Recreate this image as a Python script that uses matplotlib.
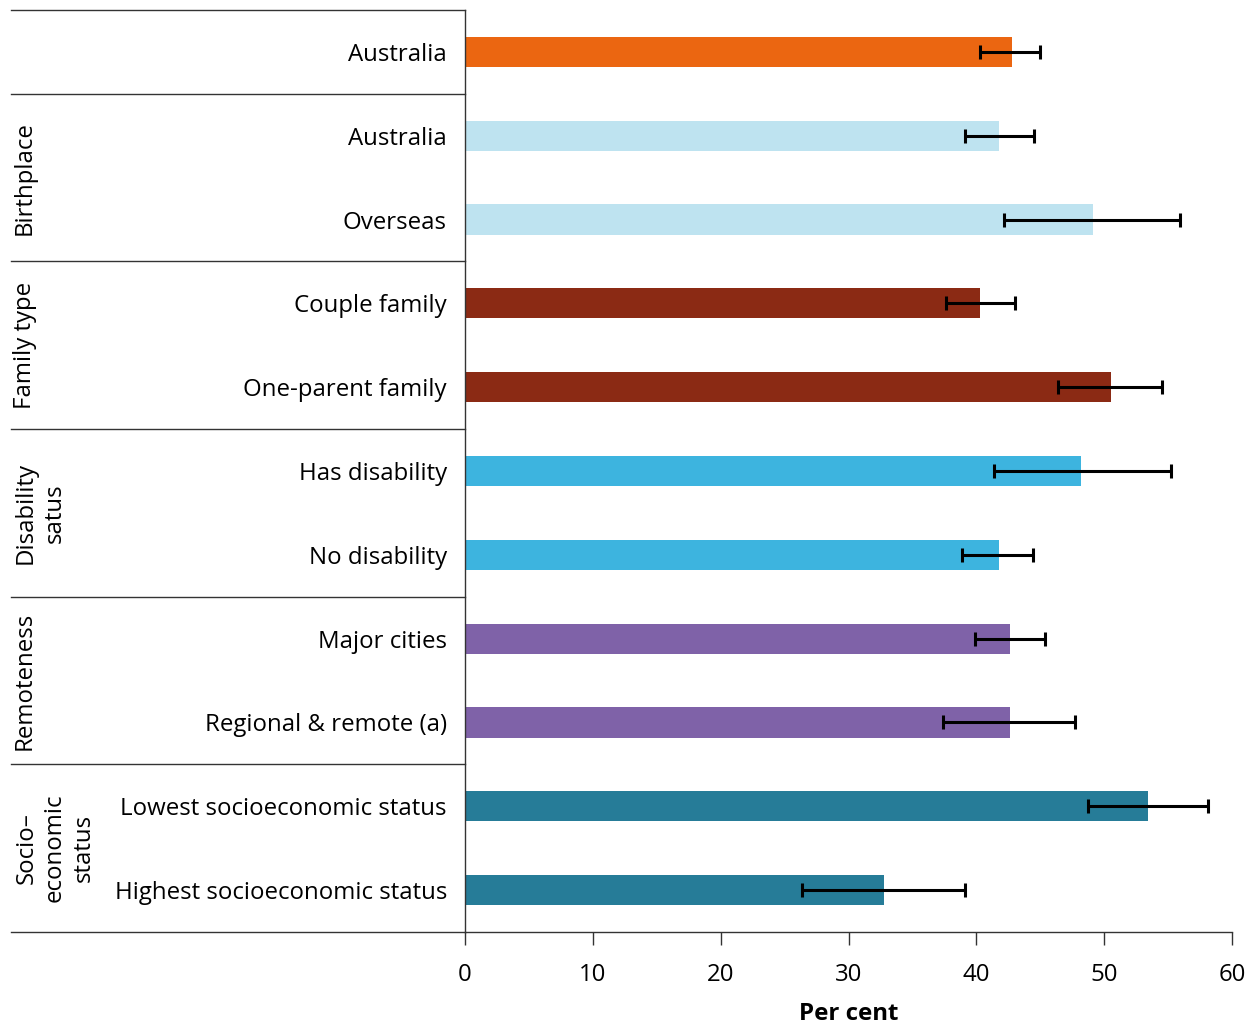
import matplotlib
matplotlib.use("Agg")
import matplotlib.pyplot as plt

plt.rcParams['font.family'] = ['Open Sans', 'DejaVu Sans']

labels = ['Australia', 'Australia', 'Overseas', 'Couple family', 'One-parent family',
          'Has disability', 'No disability', 'Major cities', 'Regional & remote (a)',
          'Lowest socioeconomic status', 'Highest socioeconomic status']
values = [42.8, 41.8, 49.1, 40.3, 50.5, 48.2, 41.8, 42.6, 42.6, 53.4, 32.8]
lower = [40.3, 39.1, 42.2, 37.6, 46.4, 41.4, 38.9, 39.9, 37.4, 48.7, 26.4]
upper = [45.0, 44.5, 55.9, 43.0, 54.5, 55.2, 44.4, 45.4, 47.7, 58.1, 39.1]
colours = ['#EB6611', '#BEE3F0', '#BEE3F0', '#8B2A14', '#8B2A14', '#3DB4DF', '#3DB4DF',
           '#7F62A8', '#7F62A8', '#267C98', '#267C98']

groups = ['Birthplace', 'Family type', 'Disability\nsatus', 'Remoteness', 'Socio–\neconomic\nstatus']
group_rows = [(1, 2), (3, 4), (5, 6), (7, 8), (9, 10)]
borders = [-0.5, 0.5, 2.5, 4.5, 6.5, 8.5, 10.5]

fs = 17.3

fig = plt.figure(figsize=(12.53, 10.27), dpi=100)
ax = fig.add_axes([465 / 1253, 1 - 932 / 1027, 767 / 1253, 922 / 1027])

y = list(range(len(labels)))
err = [[v - l for v, l in zip(values, lower)], [u - v for v, u in zip(values, upper)]]
ax.barh(y, values, height=0.36, color=colours, zorder=2)
ax.errorbar(values, y, xerr=err, fmt='none', ecolor='black', elinewidth=2.2,
            capsize=5, capthick=2.2, zorder=3)

ax.set_ylim(10.5, -0.5)
ax.set_xlim(0, 60)
ax.set_xticks(range(0, 61, 10))
ax.set_yticks(y)
ax.set_yticklabels(labels, fontsize=fs)
ax.tick_params(axis='y', length=0, pad=13)
ax.tick_params(axis='x', length=9, width=1, color='#333333', pad=13, labelsize=fs)
ax.set_xlabel('Per cent', fontsize=fs, fontweight='bold', labelpad=11)

for s in ['top', 'right']:
    ax.spines[s].set_visible(False)
for s in ['left', 'bottom']:
    ax.spines[s].set_color('#333333')
    ax.spines[s].set_linewidth(1)

# table lines in the label area
left_x = (11 - 465) / 767
tr = ax.get_yaxis_transform()
for b in borders:
    ax.plot([left_x, 0], [b, b], transform=tr, color='#333333', lw=1, clip_on=False)

for name, (a, b) in zip(groups, group_rows):
    nlines = name.count('\n') + 1
    xc = (25 + 15 * (nlines - 1) - 465) / 767
    ax.text(xc, (a + b) / 2, name, transform=tr, rotation=90, fontsize=fs,
            ha='center', va='center', multialignment='center', linespacing=1.25)

fig.savefig('out.png', dpi=100)
